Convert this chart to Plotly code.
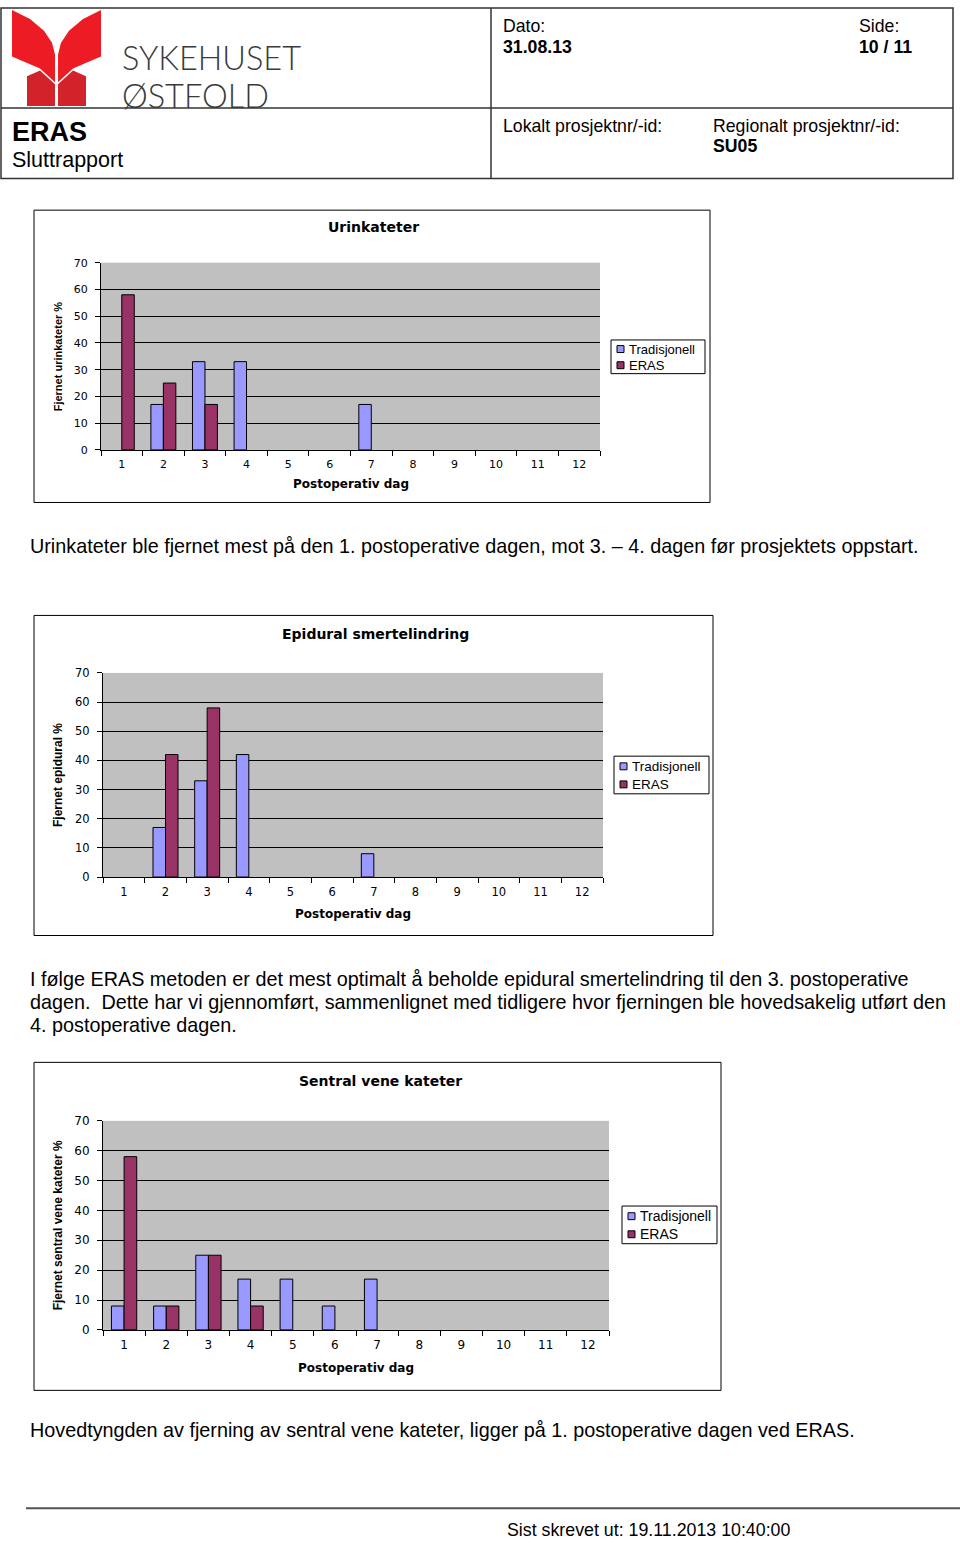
import plotly.graph_objects as go

W, H = 960, 1545

days = [str(d) for d in range(1, 13)]
series_names = ["Tradisjonell", "ERAS"]

# Fjernet urinkateter %
urin_trad = [None, 17, 33, 33, None, None, 17, None, None, None, None, None]
urin_eras = [58, 25, 17, None, None, None, None, None, None, None, None, None]

# Fjernet epidural %
epi_trad = [None, 17, 33, 42, None, None, 8, None, None, None, None, None]
epi_eras = [None, 42, 58, None, None, None, None, None, None, None, None, None]

# Fjernet sentral vene kateter %
cvk_trad = [8, 8, 25, 17, 17, 8, 17, None, None, None, None, None]
cvk_eras = [58, 8, 25, 8, None, None, None, None, None, None, None, None]

chart_titles = ["Urinkateter", "Epidural smertelindring", "Sentral vene kateter"]
y_titles = ["Fjernet urinkateter %", "Fjernet epidural %", "Fjernet sentral vene kateter %"]
x_title = "Postoperativ dag"

colors = ["#9999FF", "#993366"]


def px(x):
    return x / W


def py(y):
    return 1 - y / H


# pixel geometry of each chart on the page
charts = [
    dict(trad=urin_trad, eras=urin_eras, frame=(34, 205, 710, 500), plot=(101, 258, 600, 447),
         title_xy=(373, 222), xt_y=481, yt_x=58, legend=(611, 336, 705, 370),
         tick=11, ysize=11, lsize=13),
    dict(trad=epi_trad, eras=epi_eras, frame=(34, 614, 713, 937), plot=(103, 672, 603, 878),
         title_xy=(375, 633), xt_y=915, yt_x=58, legend=(614, 756, 709, 794),
         tick=11.5, ysize=12, lsize=13.5),
    dict(trad=cvk_trad, eras=cvk_eras, frame=(34, 1065, 721, 1396), plot=(103, 1124, 609, 1335),
         title_xy=(380, 1084), xt_y=1373, yt_x=58, legend=(622, 1210, 717, 1248),
         tick=12, ysize=12, lsize=14),
]

fig = go.Figure()
shapes = []
ann = []

chart_font = "DejaVu Sans, Verdana, sans-serif"
body_font = "Liberation Sans, Arial, sans-serif"

for i, c in enumerate(charts):
    n = "" if i == 0 else str(i + 1)
    xa, ya = "x" + n, "y" + n
    for name, vals, col in zip(series_names, [c["trad"], c["eras"]], colors):
        fig.add_trace(go.Bar(x=days, y=vals, name=name, marker_color=col,
                             marker_line=dict(color="black", width=1),
                             xaxis=xa, yaxis=ya, showlegend=False))
    x0, y0, x1, y1 = c["plot"]
    fig.layout["xaxis" + n] = dict(
        domain=[px(x0), px(x1)], anchor=ya, type="category", categoryorder="array",
        categoryarray=days, tickson="boundaries", ticks="outside", ticklen=5,
        tickcolor="black", showline=True, linecolor="black", linewidth=1,
        showgrid=False, ticklabelstandoff=4,
        tickfont=dict(family=chart_font, size=c["tick"], color="black"),
        fixedrange=True)
    fig.layout["yaxis" + n] = dict(
        domain=[py(y1), py(y0)], anchor=xa, range=[0, 70], dtick=10,
        ticks="outside", ticklen=5, tickcolor="black", showline=True,
        linecolor="black", linewidth=1, showgrid=True, gridcolor="black",
        gridwidth=1, zeroline=False, ticklabelstandoff=5,
        tickfont=dict(family=chart_font, size=c["tick"], color="black"), fixedrange=True)

    # chart frame
    fx0, fy0, fx1, fy1 = c["frame"]
    shapes.append(dict(type="rect", xref="paper", yref="paper", x0=px(fx0), x1=px(fx1),
                       y0=py(fy1), y1=py(fy0), line=dict(color="black", width=1)))
    # titles
    tx, ty = c["title_xy"]
    ann.append(dict(text="<b>%s</b>" % chart_titles[i], x=px(tx), y=py(ty), xref="paper",
                    yref="paper", showarrow=False, xanchor="center", yanchor="middle",
                    font=dict(family=chart_font, size=14, color="black")))
    ann.append(dict(text="<b>%s</b>" % x_title, x=px((x0 + x1) / 2), y=py(c["xt_y"]),
                    xref="paper", yref="paper", showarrow=False, xanchor="center",
                    yanchor="middle", font=dict(family=chart_font, size=12, color="black")))
    ann.append(dict(text="<b>%s</b>" % y_titles[i], x=px(c["yt_x"]), y=py((y0 + y1) / 2),
                    xref="paper", yref="paper", showarrow=False, textangle=-90,
                    xanchor="center", yanchor="middle",
                    font=dict(family=body_font, size=c["ysize"], color="black")))
    # legend box
    lx0, ly0, lx1, ly1 = c["legend"]
    shapes.append(dict(type="rect", xref="paper", yref="paper", x0=px(lx0), x1=px(lx1),
                       y0=py(ly1), y1=py(ly0), line=dict(color="black", width=1),
                       fillcolor="white"))
    rows = [ly0 + (ly1 - ly0) * 0.27, ly0 + (ly1 - ly0) * 0.75]
    for name, col, ry in zip(series_names, colors, rows):
        shapes.append(dict(type="rect", xref="paper", yref="paper", x0=px(lx0 + 6),
                           x1=px(lx0 + 13), y0=py(ry + 3.5), y1=py(ry - 3.5),
                           fillcolor=col, line=dict(color="black", width=1)))
        ann.append(dict(text=name, x=px(lx0 + 16), y=py(ry), xref="paper", yref="paper",
                        showarrow=False, xanchor="left", yanchor="middle",
                        font=dict(family=body_font, size=c["lsize"], color="black")))

# header table
shapes.append(dict(type="rect", xref="paper", yref="paper", x0=px(1), x1=px(953),
                   y0=py(173), y1=py(1), line=dict(color="#333", width=1.5)))
shapes.append(dict(type="line", xref="paper", yref="paper", x0=px(1), x1=px(953),
                   y0=py(102), y1=py(102), line=dict(color="#333", width=1.5)))
shapes.append(dict(type="line", xref="paper", yref="paper", x0=px(491), x1=px(491),
                   y0=py(1), y1=py(173), line=dict(color="#333", width=1.5)))


def poly(pts, color):
    d = "M " + " L ".join("%f,%f" % (px(a), py(b)) for a, b in pts) + " Z"
    shapes.append(dict(type="path", xref="paper", yref="paper", path=d,
                       fillcolor=color, line=dict(width=0)))


# logo butterfly
poly([(12, 3), (30, 12), (44, 24), (52, 36), (55, 48), (55, 76), (40, 62), (12, 50)], "#ED1C24")
poly([(101, 3), (83, 12), (69, 24), (61, 36), (58, 48), (58, 76), (73, 62), (101, 50)], "#ED1C24")
poly([(27, 70), (40, 64), (55, 78), (55, 100), (27, 100)], "#D2232A")
poly([(86, 70), (73, 64), (58, 78), (58, 100), (86, 100)], "#D2232A")


def text(s, x, y, size, bold=False, color="black", family=body_font, weight=None):
    f = dict(family=family, size=size, color=color)
    if weight:
        f["weight"] = weight
    ann.append(dict(text="<b>%s</b>" % s if bold else s, x=px(x), y=py(y), xref="paper",
                    yref="paper", showarrow=False, xanchor="left", yanchor="middle",
                    font=f))


logo_font = "Lato, Open Sans, Liberation Sans, sans-serif"
text("SYKEHUSET", 120, 50.5, 32.5, color="#3a3a3a", family=logo_font, weight=300)
text("ØSTFOLD", 120, 89.5, 32.5, color="#3a3a3a", family=logo_font, weight=300)
text("ERAS", 10, 126, 27, bold=True)
text("Sluttrapport", 10, 154, 21.5)
text("Dato:", 501, 19, 17.7)
text("31.08.13", 501, 40, 17.7, bold=True)
text("Side:", 857, 19, 17.7)
text("10 / 11", 857, 40, 17.7, bold=True)
text("Lokalt prosjektnr/-id:", 501, 120, 17.7)
text("Regionalt prosjektnr/-id:", 711, 120, 17.7)
text("SU05", 711, 140, 17.7, bold=True)

# body text
text("Urinkateter ble fjernet mest på den 1. postoperative dagen, mot 3. – 4. dagen før prosjektets oppstart.",
     28, 544, 19.8)
text("I følge ERAS metoden er det mest optimalt å beholde epidural smertelindring til den 3. postoperative",
     28, 981, 19.8)
text("dagen.  Dette har vi gjennomført, sammenlignet med tidligere hvor fjerningen ble hovedsakelig utført den",
     28, 1004, 19.8)
text("4. postoperative dagen.", 28, 1027, 19.8)
text("Hovedtyngden av fjerning av sentral vene kateter, ligger på 1. postoperative dagen ved ERAS.",
     28, 1436, 19.8)

# footer
shapes.append(dict(type="line", xref="paper", yref="paper", x0=px(26), x1=px(960),
                   y0=py(1515), y1=py(1515), line=dict(color="#555", width=2)))
text("Sist skrevet ut: 19.11.2013 10:40:00", 505, 1537, 17.8)

fig.update_layout(
    width=W, height=H, autosize=False, margin=dict(l=0, r=0, t=0, b=0),
    paper_bgcolor="white", plot_bgcolor="#C0C0C0",
    barmode="group", bargap=0.4, bargroupgap=0,
    shapes=shapes, annotations=ann, showlegend=False,
)

pin = ("document.documentElement.style.margin='0';document.documentElement.style.padding='0';"
       "document.body.style.margin='0';document.body.style.padding='0';"
       "document.body.style.overflow='hidden';"
       "var d=document.getElementById('{plot_id}');d.style.position='absolute';"
       "d.style.left='0px';d.style.top='0px';")
fig.write_html("out.html", config={"displayModeBar": False}, post_script=pin)
